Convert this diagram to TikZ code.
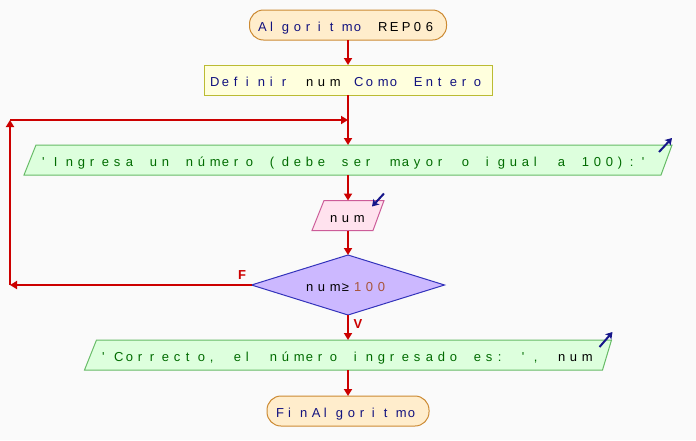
\documentclass[tikz,border=0pt]{standalone}
\usepackage{fontspec}
\newfontfamily\pfont{Liberation Sans}
\usetikzlibrary{arrows.meta,shapes.geometric,calc,backgrounds}
\definecolor{bgc}{HTML}{FAFAFA}
\definecolor{flow}{HTML}{CC0000}
\definecolor{navy}{HTML}{12127F}
\definecolor{gtext}{HTML}{006B00}
\definecolor{numc}{HTML}{A8553A}
\definecolor{termfill}{HTML}{FFEDCC}
\definecolor{termdraw}{HTML}{CC8A33}
\definecolor{deffill}{HTML}{FFFFDD}
\definecolor{defdraw}{HTML}{BBBB33}
\definecolor{iofill}{HTML}{DDFFDD}
\definecolor{iodraw}{HTML}{66BB66}
\definecolor{rdfill}{HTML}{FFE2EE}
\definecolor{rddraw}{HTML}{CC5C99}
\definecolor{dfill}{HTML}{CCB8FF}
\definecolor{ddraw}{HTML}{3333BB}
\definecolor{icon}{HTML}{16168A}
\ExplSyntaxOn
\NewDocumentCommand\mono{m}{\str_map_inline:nn{#1}{\makebox[12pt][l]{##1}}}
\ExplSyntaxOff
\newcommand\mcell{\hspace*{12pt}}
\tikzset{
  base/.style={inner sep=0pt, outer sep=0pt, font=\pfont\fontsize{13}{15}\selectfont, align=center, text height=13pt, text depth=0pt},
  term/.style={base, rectangle, rounded corners=14pt, draw=termdraw, fill=termfill, line width=1pt, minimum height=30pt, text=navy},
  defbox/.style={base, rectangle, draw=defdraw, fill=deffill, line width=1pt, minimum height=30pt},
  iobox/.style={base, rectangle, minimum height=30pt},
  iopara/.style={draw=iodraw, fill=iofill, line width=1pt},
  rdpara/.style={draw=rddraw, fill=rdfill, line width=1pt},
  diapoly/.style={draw=ddraw, fill=dfill, line width=1pt},
  flowline/.style={draw=flow, line width=2pt},
  flowarrow/.style={flowline, -{Triangle[length=7pt,width=8pt]}},
  iconarrow/.style={draw=icon, line width=2pt, -{Stealth[length=6.5pt,width=8pt,inset=1.5pt]}},
  lbl/.style={inner sep=0pt, font=\pfont\bfseries\fontsize{13}{15}\selectfont, text=flow}
}
\begin{document}
\begin{tikzpicture}[x=1pt,y=-1pt]
\useasboundingbox (0,0) rectangle (696,440);
\begin{scope}[on background layer]
  \fill[bgc] (0,0) rectangle (696,440);
\end{scope}

\node[term, minimum width=197pt] (start) at (348,25) {\mono{Algoritmo}\mcell\textcolor{black}{\mono{REP06}}};
\node[defbox, minimum width=288pt] (def) at (348,80) {\textcolor{navy}{\mono{Definir}}\mcell\mono{num}\mcell\textcolor{navy}{\mono{Como}\mcell\mono{Entero}}};
\node[iobox, minimum width=648pt, text=gtext] (in) at (348,160) {\mono{'Ingresa un número (debe ser mayor o igual a 100):'}};
\node[iobox, minimum width=72pt] (rd) at (348,215.5) {\mono{num}};
\node[iobox, minimum width=193pt, minimum height=60pt] (dia) at (348,285) {\mono{num≥}\textcolor{numc}{\mono{100}}};
\node[iobox, minimum width=527pt] (out) at (348,355) {\textcolor{gtext}{\mono{'Correcto,}\mcell\mono{el}\mcell\mono{número}\mcell\mono{ingresado}\mcell\mono{es:}\mcell\mono{',}}\mcell\mono{num}};
\node[term, minimum width=162pt] (fin) at (348,411) {\mono{FinAlgoritmo}};

\begin{scope}[on background layer]
  \path[iopara] (in.south west) -- ($(in.north west)+(12,0)$) -- (in.north east) -- ($(in.south east)+(-11,0)$) -- cycle;
  \path[rdpara] (rd.south west) -- ($(rd.north west)+(12,0)$) -- (rd.north east) -- ($(rd.south east)+(-11,0)$) -- cycle;
  \path[diapoly] (dia.west) -- (dia.north) -- (dia.east) -- (dia.south) -- cycle;
  \path[iopara] (out.south west) -- ($(out.north west)+(12,0)$) -- (out.north east) -- ($(out.south east)+(-9,0)$) -- cycle;
\end{scope}

% icons
\draw[iconarrow] ($(in.north east)+(-13,7)$) -- ($(in.north east)+(0,-7)$);
\draw[iconarrow] ($(rd.north east)+(0,-7)$) -- ($(rd.north east)+(-12,6)$);
\draw[iconarrow] ($(out.north east)+(-12,7)$) -- ($(out.north east)+(1,-8)$);

% connectors
\coordinate (j) at (348,120);
\coordinate (l1) at (10,285);
\coordinate (l2) at (10,120);
\draw[flowarrow] (start.south) -- (def.north);
\draw[flowarrow] (def.south) -- (in.north);
\draw[flowarrow] (in.south) -- (rd.north);
\draw[flowarrow] (rd.south) -- (dia.north);
\draw[flowarrow] (dia.south) -- (out.north);
\draw[flowarrow] (out.south) -- (fin.north);
\draw[flowarrow] (dia.west) -- (l1);
\draw[flowarrow] (l1) -- (l2);
\draw[flowarrow] (l2) -- (j);

\node[lbl] (F) at (242,275) {F};
\node[lbl] (V) at (358,324) {V};
\end{tikzpicture}
\end{document}
